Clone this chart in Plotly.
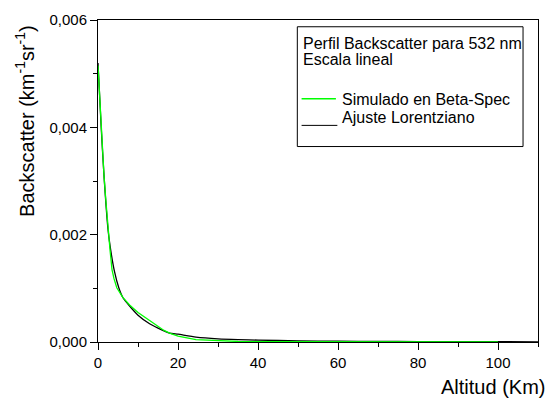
import plotly.graph_objects as go

# Backscatter profile at 532 nm, linear scale
alt_sim = [0, 0.5, 1.0, 1.5, 2.0, 2.6, 3.0, 3.5, 4.0, 4.7, 6.2, 7.9, 10.0, 12.9,
           15.0, 16.5, 17.9, 20.0, 24.5, 30.0, 35.0, 40.0, 50.0, 60.0, 80.0, 100.0]
beta_sim = [0.00515, 0.0044, 0.0038, 0.0031, 0.0026, 0.0020, 0.00172, 0.00135,
            0.00118, 0.00101, 0.00083, 0.00069, 0.00055, 0.00040, 0.00029,
            0.000215, 0.000166, 0.00011, 0.000044, 0.00002, 0.00001, 0.000005,
            0.000002, 0.000001, 0.0, 0.0]

alt_fit = [0, 0.8, 1.5, 2.5, 3.0, 4.1, 5.2, 6.2, 7.9, 10.0, 12.9, 15.0, 17.9,
           20.0, 24.5, 30.0, 35.0, 40.0, 50.0, 60.0, 70.0, 80.0, 90.0, 100.0, 110.0]
beta_fit = [0.0052, 0.0040, 0.0031, 0.0021, 0.0018, 0.00132, 0.00101, 0.00083,
            0.00067, 0.00050, 0.00034, 0.00026, 0.000166, 0.000145, 0.000092,
            0.00006, 0.000045, 0.000035, 0.000022, 0.000015, 0.00001, 0.000008,
            0.000006, 0.000005, 0.000004]

legend_title = ["Perfil Backscatter para 532 nm", "Escala lineal"]
series_names = ["Simulado en Beta-Spec", "Ajuste Lorentziano"]

GREEN = "#00ff00"
FONT = "Liberation Sans, Arial, sans-serif"

fig = go.Figure()
fig.add_trace(go.Scatter(x=alt_fit, y=beta_fit, mode="lines", name=series_names[1],
                         line=dict(color="black", width=1.3, shape="spline", smoothing=0.6),
                         showlegend=False))
fig.add_trace(go.Scatter(x=alt_sim, y=beta_sim, mode="lines", name=series_names[0],
                         line=dict(color=GREEN, width=1.3), showlegend=False))

axis_common = dict(showgrid=False, zeroline=False, showline=True, linecolor="black",
                   linewidth=1, mirror=True, ticks="outside", ticklen=7, tickwidth=1,
                   tickcolor="black", tickfont=dict(family=FONT, size=15, color="black"))

fig.update_xaxes(range=[0, 110], dtick=20, tick0=0,
                 minor=dict(dtick=10, ticks="outside", ticklen=4, tickcolor="black"),
                 **axis_common)
fig.update_yaxes(range=[0, 0.006], dtick=0.002, tick0=0, tickformat=".3f",
                 minor=dict(dtick=0.001, ticks="outside", ticklen=4, tickcolor="black"),
                 **axis_common)

# legend box with its heading and line samples
box = dict(x0=0.453, x1=0.966, y0=0.607, y1=0.979)
fig.add_shape(type="rect", xref="paper", yref="paper", line=dict(color="black", width=1),
              fillcolor="white", layer="below", **box)

ann = []
ann.append(dict(text=legend_title[0], x=0.4637, y=0.926))
ann.append(dict(text=legend_title[1], x=0.4637, y=0.877))
ann.append(dict(text=series_names[0], x=0.552, y=0.7525))
ann.append(dict(text=series_names[1], x=0.552, y=0.696))
for a in ann:
    fig.add_annotation(xref="paper", yref="paper", xanchor="left", yanchor="middle",
                       showarrow=False, borderpad=0,
                       font=dict(family=FONT, size=16, color="black"), **a)

fig.add_shape(type="line", xref="paper", yref="paper", x0=0.4627, x1=0.5407,
              y0=0.7555, y1=0.7555, line=dict(color=GREEN, width=1.3))
fig.add_shape(type="line", xref="paper", yref="paper", x0=0.4627, x1=0.544,
              y0=0.6727, y1=0.6727, line=dict(color="black", width=1))

# axis titles
fig.add_annotation(text="Altitud (Km)", xref="paper", yref="paper", x=1.0204, y=-0.141,
                   xanchor="right", yanchor="middle", showarrow=False,
                   font=dict(family=FONT, size=20, color="black"))
fig.add_annotation(text="Backscatter (km<sup>-1</sup>sr<sup>-1</sup>)", xref="paper",
                   yref="paper", x=-0.1657, y=0.687, xanchor="center", yanchor="middle",
                   textangle=-90, showarrow=False,
                   font=dict(family=FONT, size=20, color="black"))

fig.update_layout(width=550, height=408, margin=dict(l=98, r=11, t=16, b=66),
                  plot_bgcolor="white", paper_bgcolor="white", separators=",.",
                  font=dict(family=FONT, color="black"))

fig.write_html("out.html")
